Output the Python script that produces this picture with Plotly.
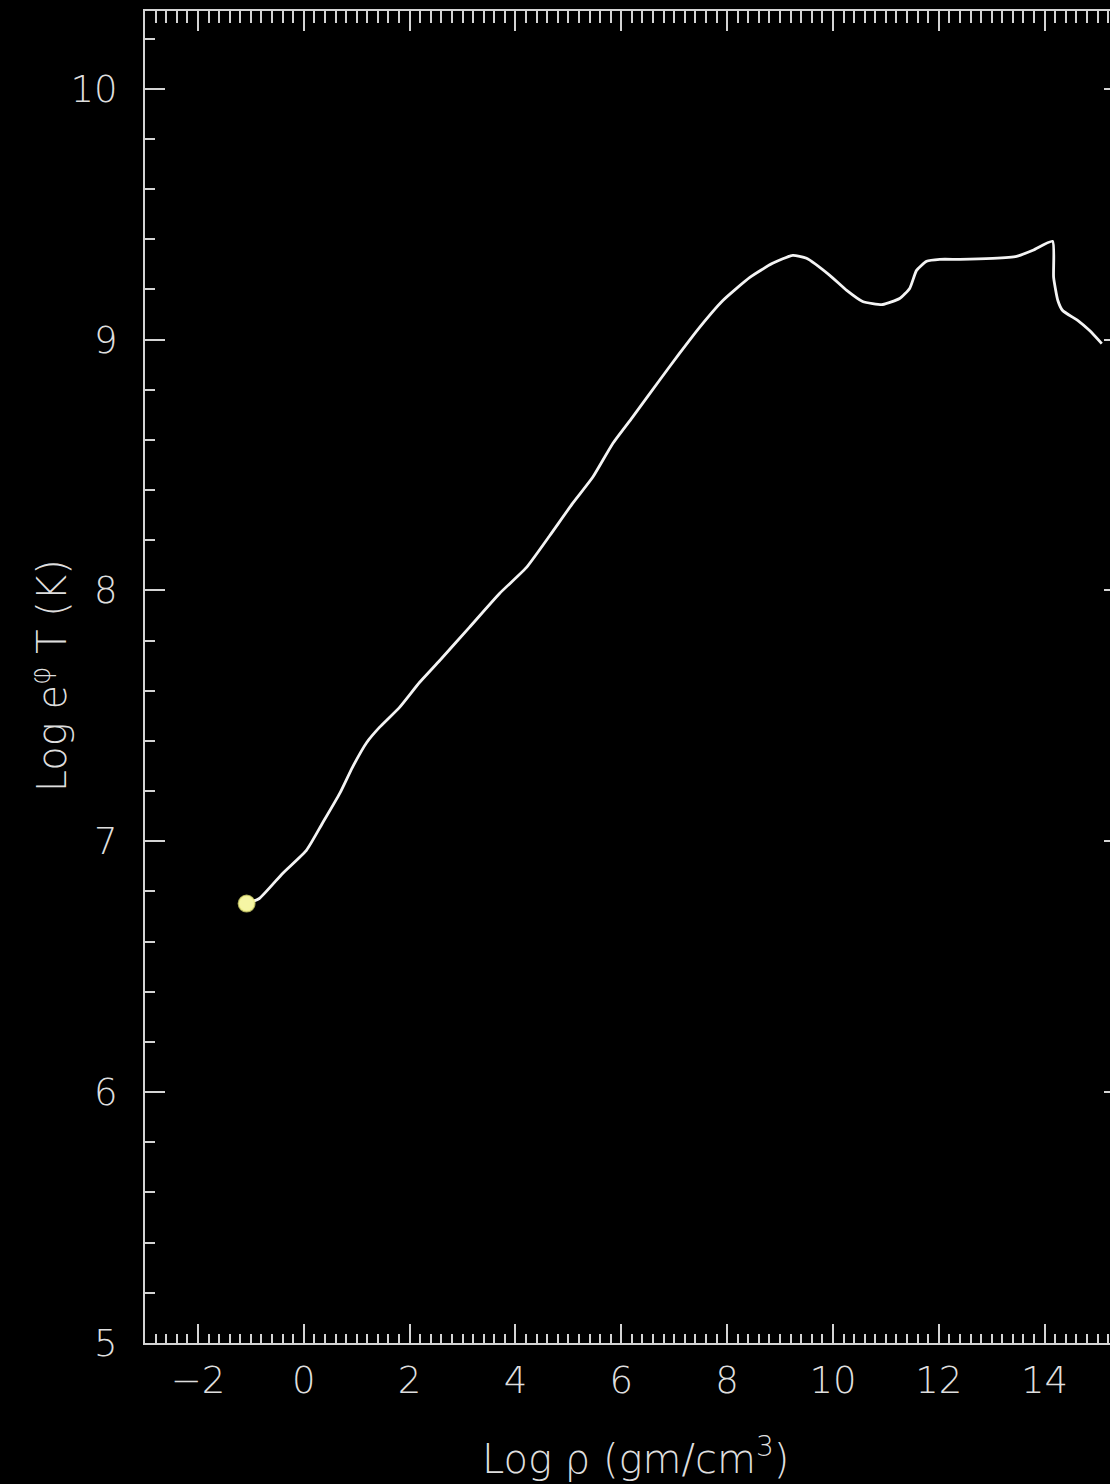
import plotly.graph_objects as go

# Temperature profile: log density vs log redshifted temperature
log_rho = [-1.08, -0.84, -0.40, 0.05, 0.35, 0.68, 0.92, 1.19, 1.43, 1.81, 2.19,
           2.57, 3.13, 3.70, 4.21, 4.65, 5.08, 5.46, 5.84, 6.21, 6.72, 7.10,
           7.48, 7.92, 8.43, 8.86, 9.24, 9.50, 9.94, 10.26, 10.56, 10.94,
           11.26, 11.45, 11.58, 11.77, 12.02, 12.40, 13.02, 13.47, 13.78,
           14.15, 14.17, 14.25, 14.34, 14.63, 14.85, 15.08]
log_eT = [6.752, 6.772, 6.872, 6.964, 7.071, 7.191, 7.295, 7.394, 7.454, 7.534,
          7.634, 7.721, 7.853, 7.988, 8.092, 8.219, 8.347, 8.451, 8.586, 8.690,
          8.837, 8.945, 9.049, 9.156, 9.248, 9.304, 9.336, 9.324, 9.256, 9.196,
          9.152, 9.140, 9.164, 9.204, 9.276, 9.312, 9.320, 9.320, 9.324, 9.332,
          9.356, 9.392, 9.248, 9.156, 9.116, 9.076, 9.036, 8.984]

x_range = [-3, 15.5]
y_range = [5, 10.31]
x_ticks = [-2, 0, 2, 4, 6, 8, 10, 12, 14]
y_ticks = [5, 6, 7, 8, 9, 10]

FG = "#d4d4d4"
FONT = dict(family="DejaVu Sans", size=37, color="#dedede", weight=200)
TITLE_FONT = dict(family="DejaVu Sans", size=40, color="#dedede", weight=200)

fig = go.Figure()

fig.add_trace(go.Scatter(
    x=log_rho, y=log_eT, mode="lines",
    line=dict(color="#f4f4f4", width=2.8, shape="spline", smoothing=0.5),
    hoverinfo="skip", showlegend=False,
))

# current point
fig.add_trace(go.Scatter(
    x=log_rho[:1], y=log_eT[:1], mode="markers",
    marker=dict(size=16, color="#f6f6a4",
                line=dict(width=2, color="rgba(240,240,130,0.7)")),
    hoverinfo="skip", showlegend=False,
))

axis_common = dict(
    showgrid=False, zeroline=False, showline=True,
    linecolor=FG, linewidth=2, ticks="inside", tickcolor=FG, tickwidth=2,
    tickfont=FONT,
)

fig.update_layout(
    width=1130, height=1484,
    margin=dict(l=145, r=6, t=11, b=141),
    paper_bgcolor="black", plot_bgcolor="black",
    xaxis=dict(
        range=x_range, tickmode="array", tickvals=x_ticks,
        ticktext=[str(v).replace("-", "\u2212") for v in x_ticks],
        ticklen=19, ticklabelstandoff=4,
        minor=dict(dtick=0.2, tick0=0, ticks="inside", ticklen=9,
                   tickcolor=FG, tickwidth=2),
        **axis_common,
    ),
    xaxis2=dict(
        overlaying="x", side="top", matches="x", range=x_range,
        tickmode="linear", tick0=0, dtick=2, ticklen=20, showticklabels=False,
        minor=dict(dtick=0.2, tick0=0, ticks="inside", ticklen=12,
                   tickcolor=FG, tickwidth=2),
        **axis_common,
    ),
    yaxis=dict(
        range=y_range, tickmode="array", tickvals=y_ticks,
        ticktext=[str(v) for v in y_ticks],
        ticklen=20, ticklabelstandoff=18,
        minor=dict(dtick=0.2, tick0=5, ticks="inside", ticklen=10,
                   tickcolor=FG, tickwidth=2),
        **axis_common,
    ),
    yaxis2=dict(
        overlaying="y", side="right", matches="y", range=y_range,
        tickmode="linear", tick0=5, dtick=1, ticklen=20, showticklabels=False,
        minor=dict(dtick=0.2, tick0=5, ticks="inside", ticklen=10,
                   tickcolor=FG, tickwidth=2),
        **axis_common,
    ),
    annotations=[
        dict(text="Log \u03c1 (gm/cm<sup>3</sup>)", xref="paper", yref="paper",
             x=0.5015, y=-0.0845, xanchor="center", yanchor="middle",
             showarrow=False, font=TITLE_FONT),
        dict(text="Log e<sup>\u03c6</sup> T (K)", xref="paper", yref="paper",
             x=-0.097, y=0.5005, xanchor="center", yanchor="middle",
             textangle=-90, showarrow=False, font=TITLE_FONT),
    ],
)

# empty traces so the top and right axes are laid out
fig.add_trace(go.Scatter(x=[], y=[], xaxis="x2", showlegend=False))
fig.add_trace(go.Scatter(x=[], y=[], yaxis="y2", showlegend=False))

fig.write_html(
    "out.html",
    post_script="document.documentElement.style.overflow='hidden';"
                "document.body.style.overflow='hidden';",
)
